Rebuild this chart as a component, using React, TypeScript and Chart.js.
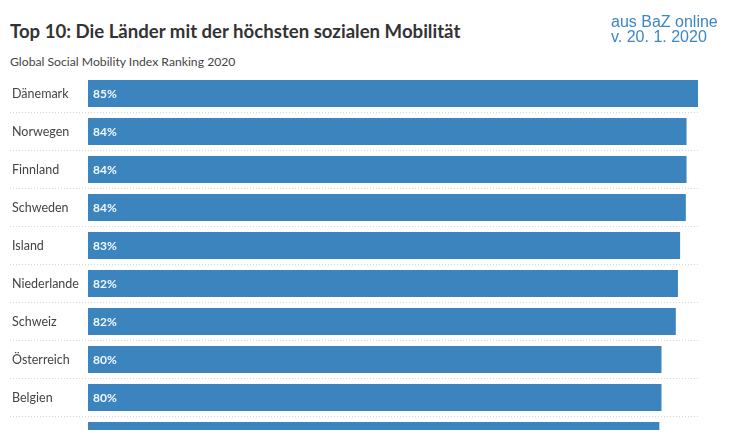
import React, { useEffect, useRef } from "react";
import { Chart, registerables } from "chart.js";

Chart.register(...registerables);

const countries: string[] = [
  "Dänemark",
  "Norwegen",
  "Finnland",
  "Schweden",
  "Island",
  "Niederlande",
  "Schweiz",
  "Österreich",
  "Belgien",
  "Luxemburg",
];

const scores: number[] = [85.2, 83.6, 83.6, 83.5, 82.7, 82.4, 82.1, 80.1, 80.1, 79.8];

const titleText = "Top 10: Die Länder mit der höchsten sozialen Mobilität";
const subtitleText = "Global Social Mobility Index Ranking 2020";
const noteLines: string[] = ["aus BaZ online", "v. 20. 1. 2020"];

const BAR_COLOR = "#3b84be";
const FONT = "Lato, 'Open Sans', sans-serif";

const valueLabelPlugin = {
  id: "valueLabels",
  afterDatasetsDraw(chart: any) {
    const ctx = chart.ctx;
    const meta = chart.getDatasetMeta(0);
    ctx.save();
    ctx.font = `bold 12px ${FONT}`;
    ctx.fillStyle = "#f2f8ff";
    ctx.textAlign = "left";
    ctx.textBaseline = "middle";
    meta.data.forEach((bar: any, i: number) => {
      const v = chart.data.datasets[0].data[i] as number;
      ctx.fillText(`${Math.round(v)}%`, bar.base + 5, bar.y + 0.5);
    });
    ctx.restore();
  },
};

export default function App() {
  const canvasRef = useRef<HTMLCanvasElement | null>(null);

  useEffect(() => {
    if (!canvasRef.current) return;
    const chart = new Chart(canvasRef.current, {
      type: "bar",
      data: {
        labels: countries,
        datasets: [
          {
            data: scores,
            backgroundColor: BAR_COLOR,
            borderWidth: 0,
            barPercentage: 1,
            categoryPercentage: 0.71,
          },
        ],
      },
      options: {
        indexAxis: "y",
        animation: false,
        responsive: false,
        devicePixelRatio: 1,
        layout: { padding: { left: 12, right: 45, top: 74.5, bottom: 15.5 } },
        plugins: {
          legend: { display: false },
          tooltip: { enabled: false },
          title: { display: false },
        },
        scales: {
          x: {
            display: false,
            min: 0,
            max: 85.2,
          },
          y: {
            position: "left",
            afterFit: (scale: any) => {
              scale.width = 76;
            },
            border: { display: false, dash: [1, 2] },
            grid: {
              offset: true,
              drawOnChartArea: true,
              drawTicks: true,
              tickLength: 78,
              lineWidth: 1,
              color: (c: any) => (c.index === 0 ? "rgba(0,0,0,0)" : "#d6d6d6"),
              tickColor: (c: any) => (c.index === 0 ? "rgba(0,0,0,0)" : "#d6d6d6"),
              borderDash: [1, 2],
              tickBorderDash: [1, 2],
            } as any,
            ticks: {
              crossAlign: "far",
              color: "#444",
              font: { family: FONT, size: 12.5 },
            },
          },
        },
      },
      plugins: [valueLabelPlugin],
    } as any);
    return () => chart.destroy();
  }, []);

  return (
    <div
      style={{
        position: "absolute",
        left: 0,
        top: 0,
        width: 743,
        height: 430,
        overflow: "hidden",
        background: "#fff",
      }}
    >
      <div
        style={{
          position: "absolute",
          left: 10,
          top: 19.5,
          font: `bold 18.6px ${FONT}`,
          color: "#333",
          whiteSpace: "nowrap",
        }}
      >
        {titleText}
      </div>
      <div
        style={{
          position: "absolute",
          left: 10,
          top: 54,
          font: `12.2px ${FONT}`,
          color: "#444",
          whiteSpace: "nowrap",
        }}
      >
        {subtitleText}
      </div>
      <canvas
        ref={canvasRef}
        width={743}
        height={470}
        style={{ position: "absolute", left: 0, top: 0, width: 743, height: 470 }}
      />
      <div
        style={{
          position: "absolute",
          left: 611,
          top: 14,
          font: "16px 'Liberation Sans', Arial, sans-serif",
          lineHeight: "15px",
          color: "#3a87c8",
          whiteSpace: "nowrap",
        }}
      >
        {noteLines.map((l) => (
          <div key={l}>{l}</div>
        ))}
      </div>
    </div>
  );
}
